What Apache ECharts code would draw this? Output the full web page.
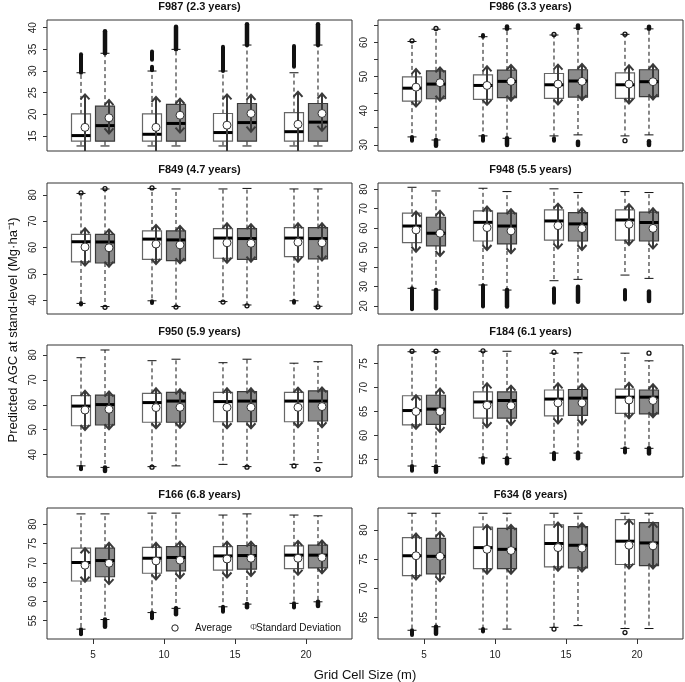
<!DOCTYPE html>
<html><head><meta charset="utf-8">
<script src="https://cdn.jsdelivr.net/npm/echarts@6/dist/echarts.min.js"></script>
<style>html,body{margin:0;padding:0;background:#fff}#c{width:685px;height:682px}</style>
</head><body><div id="c"></div>
<script>
// ---------------- DATA ----------------
const panelTitles = ['F987 (2.3 years)', 'F986 (3.3 years)', 'F849 (4.7 years)', 'F948 (5.5 years)',
  'F950 (5.9 years)', 'F184 (6.1 years)', 'F166 (6.8 years)', 'F634 (8 years)'];
const gridSizes = [5, 5, 10, 10, 15, 15, 20, 20];
const boxSide = [0, 1, 0, 1, 0, 1, 0, 1]; // 0 = white box, 1 = gray box
const xTickLabels = [5, 10, 15, 20];

// each box: [lowerWhisker, Q1, median, Q3, upperWhisker, mean, mean-SD, mean+SD]
const F987 = [
  [12.7, 13.8, 15.1, 20.1, 29.6, 17.0, 9.5, 24.6],
  [12.7, 13.8, 17.4, 21.9, 34.1, 19.2, 15.6, 23.3],
  [12.7, 13.8, 15.4, 20.1, 30.0, 17.0, 9.8, 24.0],
  [12.7, 13.8, 17.9, 22.3, 35.0, 19.8, 15.8, 23.6],
  [12.7, 13.8, 15.8, 20.2, 30.0, 17.5, 10.0, 24.6],
  [12.7, 13.8, 18.1, 22.5, 36.0, 20.2, 16.0, 24.5],
  [12.7, 13.8, 16.0, 20.4, 29.6, 17.7, 10.2, 25.2],
  [12.7, 13.8, 18.2, 22.5, 36.0, 20.2, 16.2, 24.8]];
const F986 = [
  [32.3, 42.8, 46.6, 49.9, 60.3, 46.9, 41.2, 52.2],
  [31.4, 43.5, 47.8, 51.7, 63.9, 48.2, 42.9, 52.7],
  [32.6, 43.3, 47.4, 50.5, 61.7, 47.4, 41.7, 53.0],
  [31.9, 43.8, 48.6, 51.9, 64.0, 48.6, 42.9, 53.4],
  [32.6, 43.6, 47.6, 50.9, 62.2, 47.8, 41.8, 53.5],
  [32.9, 44.0, 48.7, 52.0, 64.2, 48.6, 43.1, 53.7],
  [32.6, 43.6, 47.6, 51.1, 62.4, 47.8, 42.1, 53.3],
  [32.9, 44.1, 48.5, 52.0, 64.0, 48.5, 43.3, 53.6]];
const F849 = [
  [38.7, 54.5, 62.2, 65.0, 80.6, 60.2, 53.1, 67.3],
  [37.5, 54.1, 62.1, 65.0, 82.3, 59.9, 52.7, 66.9],
  [39.7, 55.5, 63.2, 66.3, 82.5, 61.3, 53.7, 68.6],
  [37.5, 55.0, 62.9, 66.3, 82.3, 61.0, 54.0, 68.2],
  [39.4, 55.9, 63.6, 67.2, 82.3, 61.8, 54.2, 69.2],
  [38.1, 55.5, 63.4, 67.2, 82.5, 61.6, 54.6, 68.9],
  [39.7, 56.5, 63.6, 67.6, 82.3, 62.0, 54.6, 69.2],
  [37.6, 55.7, 63.4, 67.6, 82.3, 61.8, 55.0, 69.2]];
const F948 = [
  [29.1, 52.6, 61.1, 67.7, 81.0, 59.1, 47.9, 68.5],
  [28.2, 50.9, 57.4, 65.6, 79.1, 57.4, 45.7, 68.9],
  [30.8, 53.4, 63.0, 68.9, 80.5, 60.3, 48.8, 71.1],
  [28.2, 51.9, 61.1, 67.7, 78.8, 58.6, 47.1, 69.7],
  [33.0, 53.9, 63.7, 69.4, 80.2, 61.3, 49.5, 72.6],
  [33.7, 53.4, 62.2, 68.0, 78.3, 59.8, 48.8, 70.2],
  [35.9, 53.9, 64.2, 69.4, 78.8, 62.0, 51.4, 72.3],
  [34.2, 53.4, 62.9, 68.2, 78.3, 59.9, 49.5, 70.2]];
const F950 = [
  [35.5, 51.6, 59.5, 63.7, 78.9, 57.9, 49.9, 65.6],
  [34.9, 51.9, 60.1, 63.9, 82.0, 58.2, 50.2, 65.3],
  [35.2, 53.0, 60.9, 64.6, 77.7, 58.9, 50.6, 66.6],
  [35.5, 53.0, 61.5, 65.0, 78.3, 59.0, 50.8, 66.2],
  [36.1, 53.2, 61.3, 65.0, 76.9, 59.0, 50.6, 66.6],
  [35.2, 53.2, 61.5, 65.3, 78.3, 59.0, 50.6, 66.6],
  [36.1, 53.2, 61.5, 65.0, 76.7, 59.0, 51.0, 66.9],
  [36.8, 53.5, 61.5, 65.6, 77.3, 59.3, 51.0, 67.0]];
const F184 = [
  [53.6, 62.2, 65.2, 68.3, 77.5, 65.0, 61.4, 68.4],
  [53.5, 62.3, 65.5, 68.4, 77.5, 65.0, 60.7, 69.8],
  [55.3, 63.6, 67.0, 69.1, 77.6, 66.3, 61.7, 70.9],
  [55.2, 63.6, 67.3, 69.1, 77.6, 66.2, 62.2, 70.4],
  [56.3, 64.1, 67.6, 69.5, 77.2, 66.8, 62.5, 70.9],
  [56.3, 64.2, 67.8, 69.6, 77.3, 66.8, 62.3, 70.7],
  [57.3, 64.6, 68.0, 69.7, 77.2, 67.4, 63.6, 71.0],
  [57.3, 64.5, 68.0, 69.5, 75.6, 67.3, 63.8, 70.7]];
const F166 = [
  [52.8, 65.3, 70.1, 73.8, 82.7, 69.4, 65.1, 73.8],
  [55.3, 66.4, 70.6, 73.8, 82.7, 69.9, 64.5, 75.2],
  [57.1, 67.3, 71.2, 74.0, 82.9, 70.5, 65.7, 75.2],
  [58.2, 67.9, 71.4, 74.2, 82.9, 70.7, 66.0, 75.5],
  [58.6, 68.1, 71.8, 74.2, 82.4, 71.0, 66.2, 75.5],
  [59.3, 68.4, 71.9, 74.5, 82.7, 71.2, 66.6, 75.5],
  [59.5, 68.5, 72.0, 74.4, 82.4, 71.2, 66.9, 75.7],
  [59.9, 68.7, 72.0, 74.6, 82.2, 71.4, 67.3, 75.8]];
const F634 = [
  [62.8, 72.2, 75.6, 78.7, 82.9, 75.6, 71.5, 79.4],
  [63.4, 72.5, 75.5, 78.6, 82.9, 75.5, 71.2, 79.7],
  [63.0, 73.4, 77.0, 80.5, 82.9, 76.7, 72.5, 80.9],
  [63.0, 73.4, 76.7, 80.3, 82.9, 76.5, 72.5, 80.9],
  [63.3, 73.7, 77.7, 80.9, 82.9, 77.0, 73.0, 81.3],
  [63.6, 73.5, 77.4, 80.6, 82.9, 76.9, 72.9, 81.2],
  [63.1, 74.1, 78.1, 81.8, 82.9, 77.4, 73.4, 81.8],
  [63.1, 73.9, 77.8, 81.3, 82.9, 77.3, 73.4, 81.3]];

// outliers: [boxIndex, from, to]  (from == to : a single point)
const outF987 = [[0, 29.6, 33.9], [1, 34.1, 39.2], [2, 30.2, 31.0], [2, 32.6, 34.5], [3, 35.0, 40.2],
  [4, 30.0, 35.6], [5, 36.0, 40.8], [6, 31.0, 35.8], [7, 36.0, 40.8]];
const outF986 = [[0, 60.3, 60.7], [0, 31.2, 32.3], [1, 64.1, 64.1], [1, 29.7, 31.4], [2, 61.7, 62.2], [2, 31.2, 32.6],
  [3, 64.0, 64.7], [3, 29.9, 31.9], [4, 62.2, 62.5], [4, 31.2, 31.9], [5, 64.2, 65.0], [5, 29.9, 30.9],
  [6, 62.4, 62.5], [6, 31.0, 31.4], [7, 64.0, 64.6], [7, 29.9, 31.0]];
const outF849 = [[0, 80.8, 80.8], [0, 38.3, 38.9], [1, 82.4, 82.4], [1, 37.2, 37.2], [2, 82.7, 82.7], [2, 38.9, 39.5],
  [3, 37.3, 37.3], [4, 39.2, 39.2], [5, 37.8, 37.8], [6, 39.0, 39.6], [7, 37.4, 37.4]];
const outF948 = [[0, 18.3, 29.1], [1, 18.8, 28.2], [2, 19.7, 30.5], [3, 19.7, 28.2], [4, 21.7, 29.1],
  [5, 22.2, 29.9], [6, 23.4, 28.2], [7, 22.6, 27.4]];
const outF950 = [[0, 34.1, 35.2], [1, 33.4, 34.9], [2, 35.0, 35.0], [5, 35.0, 35.0], [6, 35.5, 35.5], [7, 34.1, 34.1]];
const outF184 = [[0, 52.6, 53.6], [0, 77.6, 77.6], [1, 52.4, 53.5], [1, 77.6, 77.6], [2, 54.3, 55.3], [2, 77.7, 77.7],
  [3, 54.2, 55.2], [4, 55.0, 56.3], [4, 77.4, 77.4], [5, 55.2, 56.3], [6, 56.4, 57.3], [7, 56.2, 57.3], [7, 77.2, 77.2]];
const outF166 = [[0, 51.5, 52.8], [1, 53.4, 55.3], [2, 55.6, 57.1], [3, 56.7, 58.2], [4, 57.3, 58.6],
  [5, 58.5, 59.3], [6, 58.4, 59.5], [7, 58.8, 59.9]];
const outF634 = [[0, 62.0, 62.8], [1, 62.2, 63.4], [2, 62.6, 63.0], [4, 63.0, 63.0], [6, 62.4, 62.4]];

const yMin = [11.54, 28.17, 34.67, 15.9, 31.04, 51.3, 50.25, 61.3];
const yMax = [41.78, 66.6, 84.57, 83.2, 84.0, 78.91, 84.23, 83.8];
const yTicks = [[15, 20, 25, 30, 35, 40], [30, 35, 40, 45, 50, 55, 60, 65], [40, 50, 60, 70, 80],
  [20, 30, 40, 50, 60, 70, 80], [40, 50, 60, 70, 80], [55, 60, 65, 70, 75], [55, 60, 65, 70, 75, 80], [65, 70, 75, 80]];
const yTickLabels = [[15, 20, 25, 30, 35, 40], [30, 40, 50, 60], [40, 50, 60, 70, 80],
  [20, 30, 40, 50, 60, 70, 80], [40, 50, 60, 70, 80], [55, 60, 65, 70, 75], [55, 60, 65, 70, 75, 80], [65, 70, 75, 80]];

const yTitle = 'Predicted AGC at stand-level (Mg·ha⁻¹)';
const xTitle = 'Grid Cell Size (m)';
const legendAvg = 'Average';
const legendSD = 'Standard Deviation';

// ---------------- BUILD ----------------
const panelBoxes = [F987, F986, F849, F948, F950, F184, F166, F634];
const panelOut = [outF987, outF986, outF849, outF948, outF950, outF184, outF166, outF634];

const FONT = 'Liberation Sans, Arial, sans-serif';
const colLeft = [47, 378];
const rowTop = [20, 183, 345, 508];
const rowH = [131, 131, 132, 131];
const PW = 305;
const BOX_OFF = 12, BOX_HW = 9.5, CAP_HW = 4.5, MEAN_OFF = 4;

const grids = [], xAxes = [], yAxes = [], series = [], graphics = [];
for (let i = 0; i < 8; i++) {
  const col = i % 2, row = Math.floor(i / 2);
  const bottom = row === 3;
  grids.push({left: colLeft[col], top: rowTop[row], width: PW, height: rowH[row], show: true,
    borderColor: '#333', borderWidth: 1, backgroundColor: 'transparent', containLabel: false});
  xAxes.push({gridIndex: i, type: 'value', min: 1.76, max: 23.24, splitLine: {show: false},
    axisLine: {show: false},
    axisTick: {show: bottom, customValues: xTickLabels, length: 5, lineStyle: {color: '#333'}},
    axisLabel: {show: bottom, customValues: xTickLabels, fontSize: 10, color: '#222', margin: 11, fontFamily: FONT}});
  yAxes.push({gridIndex: i, type: 'value', min: yMin[i], max: yMax[i], splitLine: {show: false},
    axisLine: {show: false},
    axisTick: {show: true, customValues: yTicks[i], length: 4, lineStyle: {color: '#333'}},
    axisLabel: {customValues: yTickLabels[i], rotate: 90, fontSize: 10, color: '#222', margin: 9, fontFamily: FONT}});

  // outliers
  series.push({
    type: 'custom', xAxisIndex: i, yAxisIndex: i, clip: true, silent: true, z: 2,
    data: panelOut[i].map(o => [gridSizes[o[0]], boxSide[o[0]], o[1], o[2]]),
    renderItem: (params, api) => {
      const gs = api.value(0), side = api.value(1);
      const cx = api.coord([gs, api.value(2)])[0] + (side ? BOX_OFF : -BOX_OFF);
      const y1 = api.coord([gs, api.value(2)])[1], y2 = api.coord([gs, api.value(3)])[1];
      if (Math.abs(y1 - y2) < 1.5) {
        return {type: 'circle', shape: {cx: cx, cy: (y1 + y2) / 2, r: 2}, style: {fill: 'none', stroke: '#111', lineWidth: 1.3}};
      }
      return {type: 'line', shape: {x1: cx, y1: y1, x2: cx, y2: y2},
        style: {stroke: '#111', lineWidth: side ? 4.5 : 4, lineCap: 'round'}};
    }
  });

  // boxes, whiskers, mean and SD arrows
  series.push({
    type: 'custom', xAxisIndex: i, yAxisIndex: i, clip: true, silent: true, z: 3,
    data: panelBoxes[i].map((b, k) => [gridSizes[k], boxSide[k]].concat(b)),
    renderItem: (params, api) => {
      const gs = api.value(0), side = api.value(1);
      const yv = idx => api.coord([gs, api.value(idx)])[1];
      const cx = api.coord([gs, api.value(2)])[0] + (side ? BOX_OFF : -BOX_OFF);
      const low = yv(2), q1 = yv(3), med = yv(4), q3 = yv(5), high = yv(6), mean = yv(7), sdLo = yv(8), sdHi = yv(9);
      const dash = {stroke: '#111', lineWidth: 1, lineDash: [4, 3]};
      const solid = {stroke: '#111', lineWidth: 1};
      const ax = cx + MEAN_OFF;
      const arrowStyle = {stroke: '#3a3a3a', lineWidth: 2, fill: 'none'};
      return {type: 'group', children: [
        {type: 'line', shape: {x1: cx, y1: q3, x2: cx, y2: high}, style: dash},
        {type: 'line', shape: {x1: cx, y1: q1, x2: cx, y2: low}, style: dash},
        {type: 'line', shape: {x1: cx - CAP_HW, y1: high, x2: cx + CAP_HW, y2: high}, style: solid},
        {type: 'line', shape: {x1: cx - CAP_HW, y1: low, x2: cx + CAP_HW, y2: low}, style: solid},
        {type: 'rect', shape: {x: cx - BOX_HW, y: q3, width: 2 * BOX_HW, height: q1 - q3},
          style: {fill: side ? '#8c8c8c' : '#ffffff', stroke: side ? '#3a3a3a' : '#666666', lineWidth: 1.2}},
        {type: 'line', shape: {x1: cx - BOX_HW, y1: med, x2: cx + BOX_HW, y2: med}, style: {stroke: '#000', lineWidth: 3}},
        {type: 'line', shape: {x1: ax, y1: sdHi, x2: ax, y2: sdLo}, style: arrowStyle},
        {type: 'polyline', shape: {points: [[ax - 4.5, sdHi + 5], [ax, sdHi], [ax + 4.5, sdHi + 5]]}, style: arrowStyle},
        {type: 'polyline', shape: {points: [[ax - 4.5, sdLo - 5], [ax, sdLo], [ax + 4.5, sdLo - 5]]}, style: arrowStyle},
        {type: 'circle', shape: {cx: ax, cy: mean, r: 4}, style: {fill: '#fff', stroke: '#333', lineWidth: 1}}
      ]};
    }
  });

  graphics.push({type: 'text', x: colLeft[col] + PW / 2, y: rowTop[row] - 13,
    style: {text: panelTitles[i], font: 'bold 11px ' + FONT, fill: '#111', textAlign: 'center', textVerticalAlign: 'middle'}});
}

graphics.push({type: 'text', x: 13, y: 330, rotation: Math.PI / 2,
  style: {text: yTitle, font: '13px ' + FONT, fill: '#111', textAlign: 'center', textVerticalAlign: 'middle'}});
graphics.push({type: 'text', x: 365, y: 675,
  style: {text: xTitle, font: '13px ' + FONT, fill: '#111', textAlign: 'center', textVerticalAlign: 'middle'}});
// legend (inside panel F166)
graphics.push({type: 'circle', shape: {cx: 175, cy: 628, r: 3.2}, style: {fill: '#fff', stroke: '#222', lineWidth: 1}});
graphics.push({type: 'text', x: 195, y: 628,
  style: {text: legendAvg, font: '10px ' + FONT, fill: '#111', textVerticalAlign: 'middle'}});
graphics.push({type: 'text', x: 250, y: 628,
  style: {text: 'Φ', font: '9px ' + FONT, fill: '#666', textVerticalAlign: 'middle'}});
graphics.push({type: 'text', x: 256, y: 628,
  style: {text: legendSD, font: '10px ' + FONT, fill: '#111', textVerticalAlign: 'middle'}});

const chart = echarts.init(document.getElementById('c'), null, {renderer: 'canvas'});
chart.setOption({animation: false, backgroundColor: '#fff', grid: grids, xAxis: xAxes, yAxis: yAxes,
  series: series, graphic: graphics});
</script></body></html>
